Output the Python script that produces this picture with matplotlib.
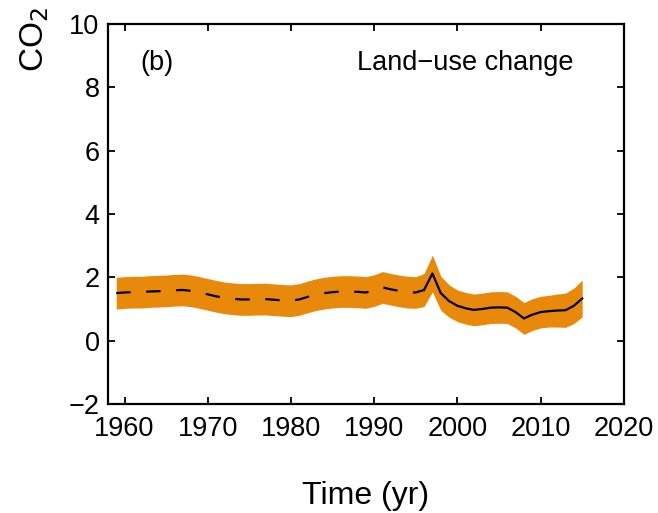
import numpy as np
import matplotlib
matplotlib.use("Agg")
import matplotlib.pyplot as plt

plt.rcParams['font.family'] = ['Liberation Sans', 'DejaVu Sans']

# land-use change CO2 flux
years_dashed = [1959, 1960, 1961, 1962, 1963, 1964, 1965, 1966, 1967, 1968,
                1969, 1970, 1971, 1972, 1973, 1974, 1975, 1976, 1977, 1978,
                1979, 1980, 1981, 1982, 1983, 1984, 1985, 1986, 1987, 1988,
                1989, 1990, 1991, 1992, 1993, 1994, 1995, 1996]
flux_dashed = [1.50, 1.52, 1.53, 1.53, 1.55, 1.56, 1.57, 1.59, 1.60, 1.57,
               1.52, 1.46, 1.40, 1.35, 1.32, 1.30, 1.30, 1.31, 1.31, 1.29,
               1.27, 1.26, 1.30, 1.38, 1.45, 1.50, 1.53, 1.55, 1.55, 1.54,
               1.52, 1.58, 1.68, 1.62, 1.57, 1.53, 1.52, 1.60]
years_solid = [1996, 1997, 1998, 1999, 2000, 2001, 2002, 2003, 2004, 2005,
               2006, 2007, 2008, 2009, 2010, 2011, 2012, 2013, 2014, 2015]
flux_solid = [1.60, 2.12, 1.50, 1.25, 1.10, 1.02, 0.97, 1.00, 1.04, 1.05,
              1.04, 0.90, 0.70, 0.82, 0.90, 0.93, 0.95, 0.96, 1.10, 1.33]

# one-sigma uncertainty for each year (1959-2015)
years_all = list(range(1959, 2016))
flux_all = flux_dashed[:-1] + flux_solid
sigma_all = [0.5] * 37 + [0.52, 0.58, 0.54, 0.51] + [0.5] * 12 + [0.52, 0.54, 0.56, 0.58]

xticks = [1960, 1970, 1980, 1990, 2000, 2010, 2020]
yticks = [-2, 0, 2, 4, 6, 8, 10]

orange = '#E8890C'

fig = plt.figure(figsize=(6.58, 5.13), dpi=100)
ax = fig.add_axes([0.164, 0.2125, 0.784, 0.741])

lo = np.array(flux_all) - np.array(sigma_all)
hi = np.array(flux_all) + np.array(sigma_all)
ax.fill_between(years_all, lo, hi, color=orange, linewidth=0)

ax.plot(years_dashed, flux_dashed, color='black', linewidth=1.6,
        dashes=(6.5, 7))
ax.plot(years_solid, flux_solid, color='black', linewidth=1.6)

ax.set_xlim(1958, 2020)
ax.set_ylim(-2, 10)
ax.set_xticks(xticks)
ax.set_yticks(yticks)
ax.set_yticklabels(['\u22122', '0', '2', '4', '6', '8', '10'])

ax.tick_params(direction='in', length=5, width=1.3, top=True, right=True,
               labelsize=19.5)
ax.tick_params(axis='x', pad=9)
ax.tick_params(axis='y', pad=6)
for s in ax.spines.values():
    s.set_linewidth(1.6)

ax.text(0.062, 0.898, '(b)', transform=ax.transAxes, fontsize=19.5,
        ha='left', va='center')
ax.text(0.693, 0.898, 'Land\u2212use change', transform=ax.transAxes,
        fontsize=19.5, ha='center', va='center')

fig.text(0.556, 0.033, 'Time (yr)', fontsize=23, ha='center', va='center')
fig.text(0.052, 0.86, 'CO$_2$', fontsize=24, rotation=90,
         ha='center', va='bottom')

fig.savefig('out.png', dpi=100)
